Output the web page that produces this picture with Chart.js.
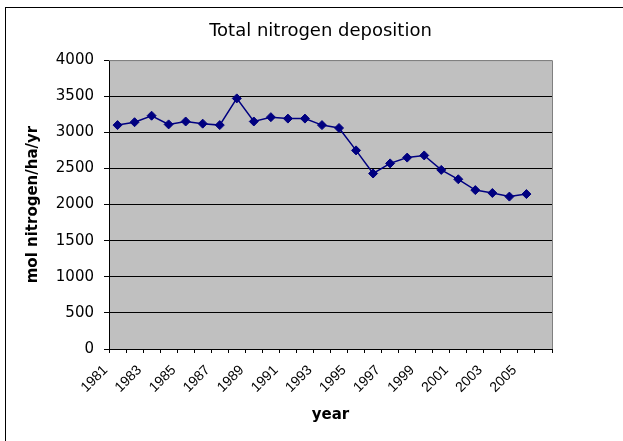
<!DOCTYPE html>
<html>
<head>
<meta charset="utf-8">
<script src="https://cdn.jsdelivr.net/npm/chart.js@4/dist/chart.umd.min.js"></script>
<style>
  html, body { margin: 0; padding: 0; background: #fff; }
  #wrap { width: 623px; height: 441px; position: relative; }
</style>
</head>
<body>
<div id="wrap"><canvas id="c" width="623" height="441"></canvas></div>
<script>
const chartTitle = 'Total nitrogen deposition';
const xTitle = 'year';
const yTitle = 'mol nitrogen/ha/yr';
const years = ['1981','1982','1983','1984','1985','1986','1987','1988','1989','1990',
               '1991','1992','1993','1994','1995','1996','1997','1998','1999','2000',
               '2001','2002','2003','2004','2005','2006'];
const deposition = [3100,3140,3230,3110,3150,3120,3100,3470,3150,3210,
                    3190,3190,3100,3060,2750,2430,2570,2650,2680,2480,
                    2350,2200,2160,2110,2145,null];
const yMin = 0, yMax = 4000, yStep = 500;

const frame = {
  id: 'frame',
  beforeDraw(chart) {
    const ctx = chart.ctx, a = chart.chartArea;
    ctx.save();
    ctx.fillStyle = '#fff';
    ctx.fillRect(0, 0, chart.width, chart.height);
    ctx.strokeStyle = '#000';
    ctx.lineWidth = 1;
    ctx.strokeRect(5.5, 7.5, 800, 800);
    ctx.fillStyle = '#C0C0C0';
    ctx.fillRect(a.left, a.top, a.right - a.left, a.bottom - a.top);
    ctx.restore();
  },
  beforeDatasetsDraw(chart) {
    const ctx = chart.ctx, a = chart.chartArea;
    ctx.save();
    ctx.strokeStyle = '#808080';
    ctx.lineWidth = 1;
    ctx.beginPath();
    ctx.moveTo(a.left, a.top + 0.5);
    ctx.lineTo(a.right + 0.5, a.top + 0.5);
    ctx.lineTo(a.right + 0.5, a.bottom);
    ctx.stroke();
    ctx.restore();
  }
};

new Chart(document.getElementById('c'), {
  type: 'line',
  data: {
    labels: years,
    datasets: [{
      data: deposition,
      borderColor: '#000080',
      backgroundColor: '#000080',
      borderWidth: 1.5,
      pointStyle: 'rectRot',
      pointRadius: 4.5,
      pointBorderWidth: 1,
      pointBackgroundColor: '#000080',
      pointBorderColor: '#000080',
      tension: 0,
      spanGaps: false
    }]
  },
  options: {
    responsive: false,
    animation: false,
    devicePixelRatio: 1,
    layout: { padding: { left: 18, right: 0, top: 0, bottom: 0 } },
    plugins: {
      legend: { display: false },
      tooltip: { enabled: false },
      title: {
        display: true,
        text: chartTitle,
        color: '#000',
        font: { family: 'DejaVu Sans', size: 18, weight: 'normal' },
        padding: { top: 20.5, bottom: 18 }
      }
    },
    scales: {
      x: {
        type: 'category',
        offset: true,
        grid: { display: true, offset: true, drawOnChartArea: false, color: '#000', tickLength: 4, tickWidth: 1 },
        border: { display: true, color: '#000', width: 1 },
        ticks: {
          autoSkip: false,
          maxRotation: 45,
          minRotation: 45,
          padding: 9,
          labelOffset: -12,
          color: '#000',
          font: { family: 'Liberation Sans', size: 14 },
          callback: function(val, i) { return i % 2 === 0 ? years[i] : ''; }
        },
        title: {
          display: true,
          text: xTitle,
          color: '#000',
          font: { family: 'DejaVu Sans', size: 15, weight: 'bold' },
          padding: { top: 0, bottom: 17 }
        },
        afterFit(s) { s.height = 92; }
      },
      y: {
        min: yMin,
        max: yMax,
        grid: {
          color: (c) => (c.tick && c.tick.value === yMax) ? '#808080' : '#000',
          tickColor: '#000',
          tickLength: 5,
          lineWidth: 1
        },
        border: { display: true, color: '#000', width: 1 },
        ticks: {
          stepSize: yStep,
          padding: 10,
          color: '#000',
          font: { family: 'DejaVu Sans', size: 15 },
          callback: (v) => String(v)
        },
        title: {
          display: true,
          text: yTitle,
          color: '#000',
          font: { family: 'DejaVu Sans', size: 15, weight: 'bold' },
          padding: { top: 6, bottom: 0 }
        },
        afterFit(s) { s.width = 91; }
      },
      y2: {
        type: 'linear',
        position: 'right',
        display: true,
        grid: { display: false, drawTicks: false },
        border: { display: false },
        ticks: { display: false },
        afterFit(s) { s.width = 71; }
      }
    }
  },
  plugins: [frame]
});
</script>
</body>
</html>
